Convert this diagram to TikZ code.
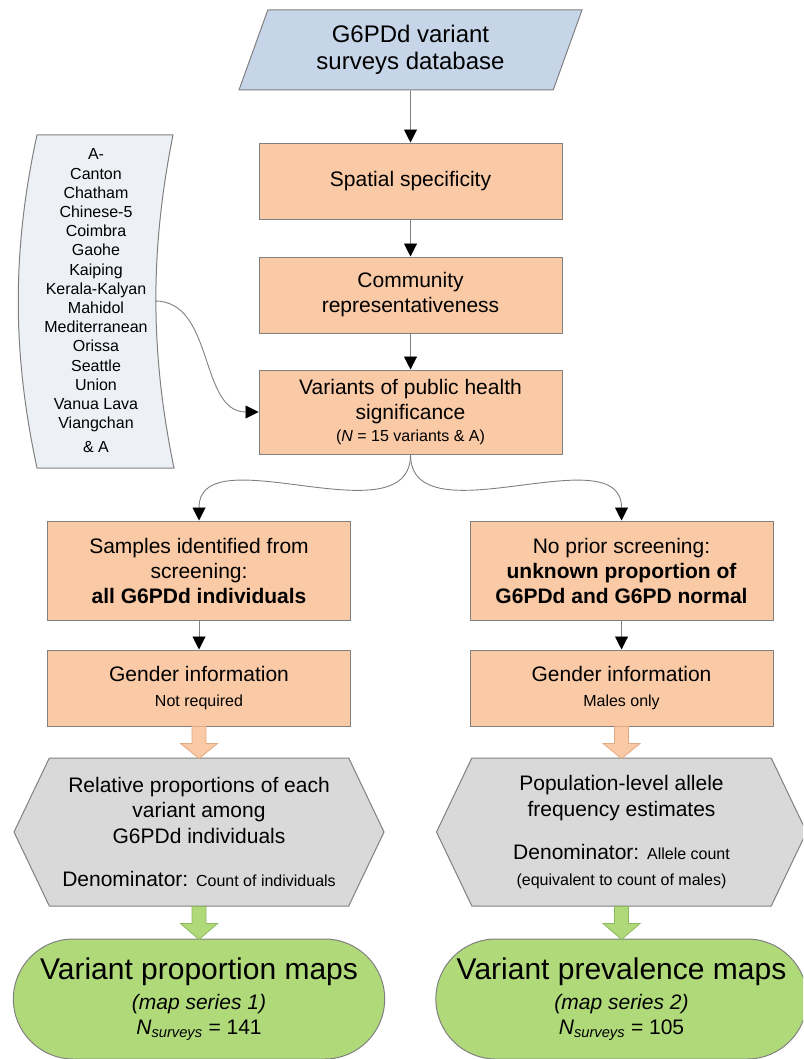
\documentclass[tikz,border=0pt]{standalone}
\usepackage{fontspec}
\setmainfont{Liberation Sans}
\usetikzlibrary{shapes.geometric, shapes.misc, shapes.symbols, arrows.meta, positioning}

\definecolor{linegray}{RGB}{128,128,128}
\definecolor{peach}{RGB}{250,201,165}
\definecolor{peachdark}{RGB}{226,170,130}
\definecolor{dbblue}{RGB}{198,214,232}
\definecolor{listblue}{RGB}{237,241,246}
\definecolor{hexgray}{RGB}{217,217,217}
\definecolor{mapgreen}{RGB}{176,218,122}
\definecolor{greendark}{RGB}{140,185,95}

\tikzstyle{arrow} = [line width=0.9pt, draw=linegray, -{Triangle[width=13pt,length=13pt,color=black]}]
\tikzstyle{process} = [rectangle, draw=linegray, line width=1pt, fill=peach, minimum width=303pt, align=center, font=\fontsize{21}{25}\selectfont]
\tikzstyle{database} = [trapezium, trapezium left angle=63, trapezium right angle=117, trapezium stretches body=true, draw=linegray, line width=1pt, fill=dbblue, minimum width=343pt, minimum height=80pt, align=center, font=\fontsize{24}{27.5}\selectfont]
\tikzstyle{result} = [signal, signal to=east and west, signal pointer angle=129, draw=linegray, line width=1pt, fill=hexgray, minimum width=370pt, minimum height=148pt, align=center, font=\fontsize{21}{25.5}\selectfont]
\tikzstyle{mapnode} = [rounded rectangle, draw=linegray, line width=1pt, fill=mapgreen, minimum width=378pt, minimum height=120pt, align=center, font=\fontsize{21}{25}\selectfont]
\tikzstyle{fatarrow} = [line width=0.8pt, line join=miter]
\tikzstyle{listshape} = [draw=linegray, line width=1pt, fill=listblue]

\newcommand{\smalltxt}{\fontsize{16}{19}\selectfont}
\newcommand{\bigtxt}{\fontsize{30}{34}\selectfont}

\begin{document}
\begin{tikzpicture}[x=1pt, y=-1pt]
\useasboundingbox (0,0) rectangle (803,1059);
\clip (0,0) rectangle (803,1059);

% Survey filters
\node (db) [database] at (410.5,50) {G6PDd variant\\surveys database};
\node (spatial) [process, minimum height=76pt, below=52pt of db] {Spatial specificity};
\node (community) [process, minimum height=76pt, below=37pt of spatial] {Community\\representativeness};
\node (variants) [process, minimum height=84pt, below=36pt of community] {Variants of public health\\significance\\[-3pt]{\smalltxt(\textit{N} = 15 variants \& A)}};

% Variant list
\path[listshape] (37,135) -- (173,135) .. controls (150,250) and (150,352) .. (174,468) -- (37,468) .. controls (12,352) and (12,250) .. (37,135) -- cycle;
\node (vlist) [align=center, font=\fontsize{16}{19.2}\selectfont] at (96,301) {A-\\Canton\\Chatham\\Chinese-5\\Coimbra\\Gaohe\\Kaiping\\Kerala-Kalyan\\Mahidol\\Mediterranean\\Orissa\\Seattle\\Union\\Vanua Lava\\Viangchan\\[5pt]\& A};
\coordinate (listout) at (155,301);

% Two branches
\node (samples) [process, minimum height=99pt, below=66pt of variants, xshift=-211.5pt] {Samples identified from\\screening:\\\textbf{all G6PDd individuals}};
\node (noprior) [process, minimum height=99pt, below=66pt of variants, xshift=211pt] {No prior screening:\\\textbf{unknown proportion of}\\\textbf{G6PDd and G6PD normal}};
\node (genderL) [process, minimum height=76pt, below=29pt of samples] {Gender information\\{\smalltxt Not required}};
\node (genderR) [process, minimum height=76pt, below=29pt of noprior] {Gender information\\{\smalltxt Males only}};

% Outputs
\node (propL) [result, below=31pt of genderL] {Relative proportions of each\\variant among\\G6PDd individuals\\[18pt]Denominator: {\smalltxt Count of individuals}};
\node (freqR) [result, below=31pt of genderR] {Population-level allele\\frequency estimates\\[18pt]Denominator: {\smalltxt Allele count}\\{\smalltxt (equivalent to count of males)}};
\node (mapL) [mapnode, below=32pt of propL] {{\bigtxt Variant proportion maps}\\[5pt]\textit{(map series 1)}\\\textit{N}\textsubscript{\textit{surveys}} = 141};
\node (mapR) [mapnode, below=32pt of freqR] {{\bigtxt Variant prevalence maps}\\[5pt]\textit{(map series 2)}\\\textit{N}\textsubscript{\textit{surveys}} = 105};

% Block arrows
\draw [fatarrow, fill=peach, draw=peachdark] (genderL.south) ++(-7,0) -- ++(0,17) -- ++(-11.5,0) -- ++(18.5,15) -- ++(18.5,-15) -- ++(-11.5,0) -- ++(0,-17) -- cycle;
\draw [fatarrow, fill=peach, draw=peachdark] (genderR.south) ++(-7,0) -- ++(0,17) -- ++(-11.5,0) -- ++(18.5,15) -- ++(18.5,-15) -- ++(-11.5,0) -- ++(0,-17) -- cycle;
\draw [fatarrow, fill=mapgreen, draw=greendark] (propL.south) ++(-7,0) -- ++(0,17) -- ++(-11.5,0) -- ++(18.5,16) -- ++(18.5,-16) -- ++(-11.5,0) -- ++(0,-17) -- cycle;
\draw [fatarrow, fill=mapgreen, draw=greendark] (freqR.south) ++(-7,0) -- ++(0,17) -- ++(-11.5,0) -- ++(18.5,16) -- ++(18.5,-16) -- ++(-11.5,0) -- ++(0,-17) -- cycle;

% Connections
\draw [arrow] (db) -- (spatial);
\draw [arrow] (spatial) -- (community);
\draw [arrow] (community) -- (variants);
\draw [arrow] (listout) to[out=0, in=180] (variants.west);
\draw [arrow] (variants.south) to[out=-90, in=90] (samples.north);
\draw [arrow] (variants.south) to[out=-90, in=90] (noprior.north);
\draw [arrow] (samples) -- (genderL);
\draw [arrow] (noprior) -- (genderR);

\end{tikzpicture}
\end{document}
